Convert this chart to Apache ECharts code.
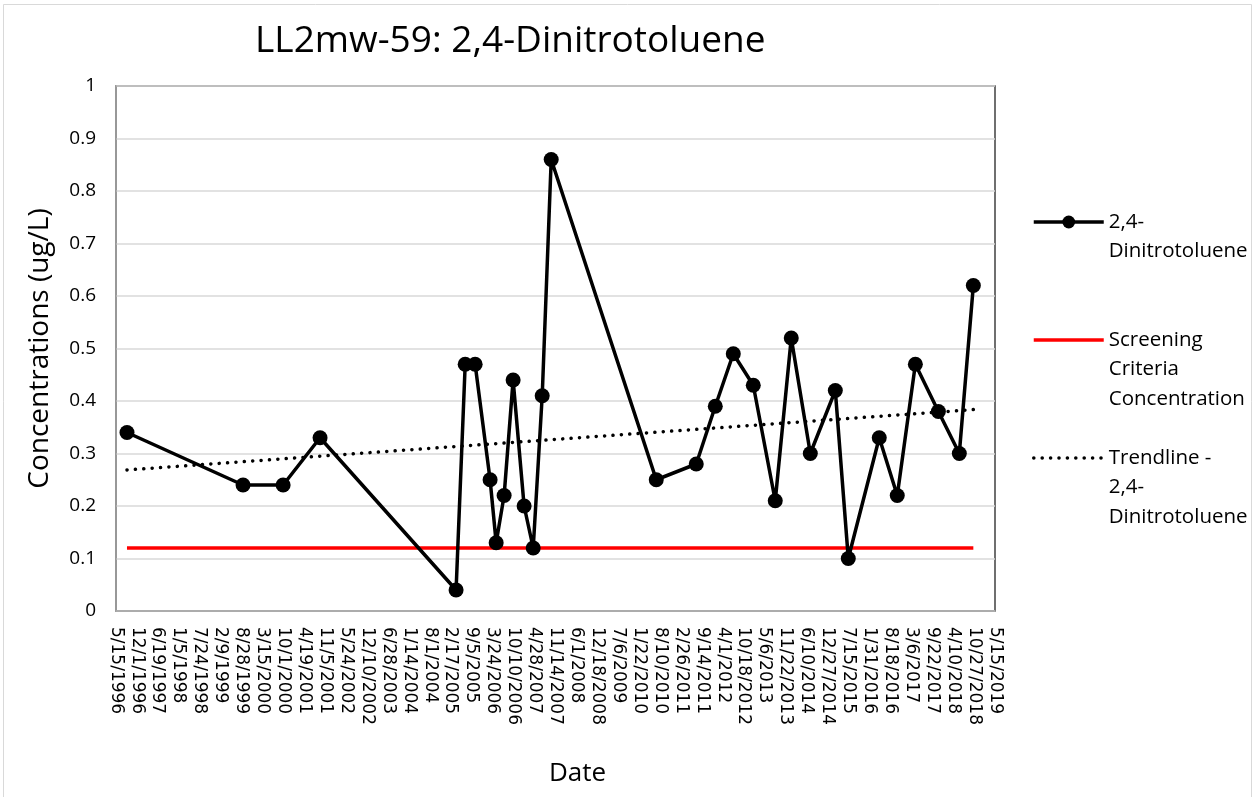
<!DOCTYPE html>
<html>
<head>
<meta charset="utf-8">
<script src="https://cdn.jsdelivr.net/npm/echarts@6/dist/echarts.min.js"></script>
<style>
  html, body { margin: 0; padding: 0; background: #fff; }
  #chart { width: 1257px; height: 797px; }
</style>
</head>
<body>
<div id="chart"></div>
<script>
const sampleDates = [
  "1996-08-28", "1999-09-11", "2000-09-28", "2001-09-16", "2005-04-08",
  "2005-07-04", "2005-10-07", "2006-02-27", "2006-04-26", "2006-07-11",
  "2006-10-05", "2007-01-18", "2007-04-15", "2007-07-10", "2007-10-04",
  "2010-07-04", "2011-07-21", "2012-01-19", "2012-07-09", "2013-01-16",
  "2013-08-14", "2014-01-14", "2014-07-15", "2015-03-11", "2015-07-13",
  "2016-05-04", "2016-10-23", "2017-04-14", "2017-11-20", "2018-06-08",
  "2018-10-20"
];
const concentrations = [
  0.34, 0.24, 0.24, 0.33, 0.04,
  0.47, 0.47, 0.25, 0.13, 0.22,
  0.44, 0.20, 0.12, 0.41, 0.86,
  0.25, 0.28, 0.39, 0.49, 0.43,
  0.21, 0.52, 0.30, 0.42, 0.10,
  0.33, 0.22, 0.47, 0.38, 0.30,
  0.62
];
const screeningCriteria = 0.12;

// x axis runs in days from the first tick, Excel style: one label every 200 days
const axisStart = "1996-05-15";
const axisDays = 8400;
const tickDays = 200;

const DAY = 86400000;
const base = Date.parse(axisStart);
const dayOf = (s) => Math.round((Date.parse(s) - base) / DAY);
const fmtDay = (v) => {
  const d = new Date(base + v * DAY);
  return (d.getUTCMonth() + 1) + "/" + d.getUTCDate() + "/" + d.getUTCFullYear();
};

const xs = sampleDates.map(dayOf);
const measured = xs.map((x, i) => [x, concentrations[i]]);

// linear trendline (least squares), as Excel draws it
function linearFit(px, py) {
  const n = px.length;
  const mx = px.reduce((a, b) => a + b, 0) / n;
  const my = py.reduce((a, b) => a + b, 0) / n;
  let sxy = 0, sxx = 0;
  for (let i = 0; i < n; i++) {
    sxy += (px[i] - mx) * (py[i] - my);
    sxx += (px[i] - mx) * (px[i] - mx);
  }
  const slope = sxy / sxx;
  return (x) => my + slope * (x - mx);
}
const fit = linearFit(xs, concentrations);
const x0 = xs[0], x1 = xs[xs.length - 1];
const trend = [[x0, fit(x0)], [x1, fit(x1)]];
const screening = [[x0, screeningCriteria], [x1, screeningCriteria]];

const FONT = "Open Sans";
const LH = 29.5;

// legend labels wrap like Excel's; blank lines on top keep the icon level with the first line
const legendLabels = {
  "2,4-Dinitrotoluene": ["2,4-", "Dinitrotoluene"],
  "Screening Criteria Concentration": ["Screening", "Criteria", "Concentration"],
  "Trendline - 2,4-Dinitrotoluene": ["Trendline -", "2,4-", "Dinitrotoluene"]
};

function legendFor(name, iconY, withSymbol) {
  const lines = legendLabels[name];
  const n = lines.length;
  return {
    data: [name],
    orient: "vertical",
    left: 1032,
    top: iconY - (2 * n - 1) * LH / 2,
    padding: 0,
    itemWidth: 70,
    itemHeight: 16,
    itemGap: 0,
    selectedMode: false,
    itemStyle: withSymbol ? {} : { opacity: 0 },
    lineStyle: { width: 3.5 },
    formatter: () => "\n".repeat(n - 1) + lines.join("\n"),
    textStyle: { fontFamily: FONT, fontSize: 20.5, color: "#000", lineHeight: LH }
  };
}

const chart = echarts.init(document.getElementById("chart"), null, { renderer: "canvas" });
chart.setOption({
  animation: false,
  backgroundColor: "#fff",
  title: {
    text: "LL2mw-59: 2,4-Dinitrotoluene",
    left: 250, top: 18,
    textStyle: { fontFamily: FONT, fontSize: 37, fontWeight: "normal", color: "#000" }
  },
  graphic: [{
    type: "rect", z: -10,
    shape: { x: 3.5, y: 4.5, width: 1248, height: 800 },
    style: { fill: "none", stroke: "#d9d9d9", lineWidth: 1 }
  }],
  legend: [
    legendFor("2,4-Dinitrotoluene", 222, true),
    legendFor("Screening Criteria Concentration", 340, false),
    legendFor("Trendline - 2,4-Dinitrotoluene", 458, false)
  ],
  grid: {
    left: 116, right: 262, top: 86, bottom: 186,
    show: true, borderColor: "#404040", borderWidth: 1.5, backgroundColor: "#fff"
  },
  xAxis: {
    type: "value",
    min: 0, max: axisDays, interval: tickDays,
    name: "Date", nameLocation: "middle", nameGap: 150,
    nameTextStyle: { fontFamily: FONT, fontSize: 26, color: "#000", padding: [0, 0, 0, 44] },
    axisLine: { show: true, lineStyle: { color: "#a6a6a6", width: 1.5 } },
    axisTick: { show: false },
    splitLine: { show: false },
    axisLabel: {
      rotate: -90, margin: 16, fontFamily: "DejaVu Sans", fontSize: 17, color: "#000",
      formatter: fmtDay, showMinLabel: true, showMaxLabel: true, hideOverlap: false
    }
  },
  yAxis: {
    type: "value",
    min: 0, max: 1, interval: 0.1,
    name: "Concentrations (ug/L)", nameLocation: "middle", nameGap: 62,
    nameTextStyle: { fontFamily: FONT, fontSize: 28, color: "#000" },
    axisLine: { show: true, lineStyle: { color: "#a6a6a6", width: 1.5 } },
    axisTick: { show: false },
    splitLine: { show: true, lineStyle: { color: "#d9d9d9", width: 1.5 } },
    axisLabel: { margin: 20, fontFamily: FONT, fontSize: 19, color: "#000" }
  },
  series: [
    {
      name: "2,4-Dinitrotoluene", type: "line", data: measured, z: 4,
      symbol: "circle", symbolSize: 15, showAllSymbol: true,
      itemStyle: { color: "#000" },
      lineStyle: { color: "#000", width: 3.5 }
    },
    {
      name: "Screening Criteria Concentration", type: "line", data: screening, z: 3,
      symbol: "none", itemStyle: { color: "#ff0000" },
      lineStyle: { color: "#ff0000", width: 3.5 }
    },
    {
      name: "Trendline - 2,4-Dinitrotoluene", type: "line", data: trend, z: 2,
      symbol: "none", itemStyle: { color: "#000" },
      lineStyle: { color: "#000", width: 3.5, type: [0.1, 8.3], cap: "round" }
    }
  ]
});
</script>
</body>
</html>
